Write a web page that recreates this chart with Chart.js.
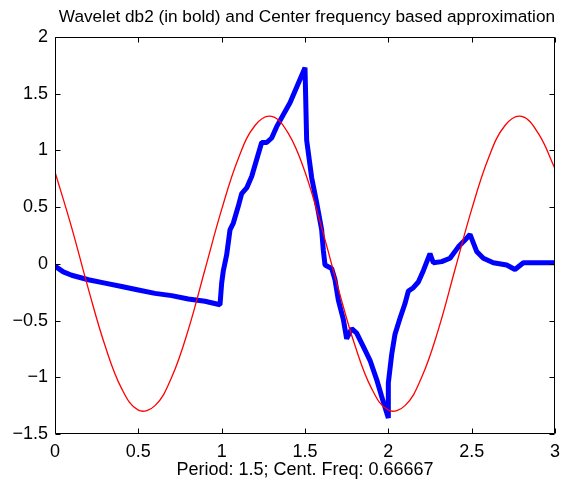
<!DOCTYPE html>
<html>
<head>
<meta charset="utf-8">
<script src="https://cdn.jsdelivr.net/npm/chart.js@4/dist/chart.umd.min.js"></script>
<style>
html,body{margin:0;padding:0;background:#fff;}
#wrap{width:574px;height:487px;}
</style>
</head>
<body>
<div id="wrap"><canvas id="c" width="574" height="487"></canvas></div>
<script>
// Wavelet db2 (bold, blue)
const blueX = [0.00,0.05,0.10,0.20,0.30,0.40,0.50,0.60,0.70,0.80,0.90,0.99,1.00,1.01,1.03,1.05,1.07,1.10,1.12,1.15,1.18,1.21,1.24,1.27,1.30,1.33,1.41,1.50,1.51,1.54,1.57,1.60,1.61,1.62,1.66,1.68,1.70,1.73,1.75,1.78,1.81,1.85,1.89,1.93,1.96,2.00,2.00,2.02,2.04,2.07,2.10,2.12,2.15,2.18,2.21,2.25,2.27,2.32,2.37,2.42,2.46,2.49,2.53,2.57,2.63,2.71,2.76,2.81,2.90,3.00];
const blueY = [-0.02,-0.07,-0.10,-0.14,-0.17,-0.20,-0.23,-0.26,-0.28,-0.31,-0.33,-0.36,-0.17,-0.06,0.08,0.30,0.36,0.51,0.62,0.67,0.77,0.92,1.07,1.07,1.11,1.21,1.42,1.73,1.09,0.76,0.54,0.30,0.12,-0.01,-0.04,-0.14,-0.32,-0.49,-0.66,-0.57,-0.61,-0.73,-0.85,-1.02,-1.17,-1.36,-1.05,-0.80,-0.62,-0.48,-0.35,-0.24,-0.21,-0.16,-0.06,0.09,0.01,0.02,0.05,0.15,0.21,0.26,0.11,0.05,0.01,-0.01,-0.05,0.01,0.01,0.01];
// Center frequency based approximation (red)
const redX = [0.0,0.1,0.2,0.3,0.4,0.5,0.6,0.7,0.8,0.9,1.0,1.1,1.2,1.3,1.4,1.5,1.6,1.7,1.8,1.9,2.0,2.1,2.2,2.3,2.4,2.5,2.6,2.7,2.8,2.9,3.0];
const redY = [0.81,0.32,-0.22,-0.72,-1.10,-1.29,-1.25,-1.00,-0.58,-0.05,0.48,0.93,1.22,1.30,1.15,0.81,0.32,-0.22,-0.72,-1.10,-1.29,-1.25,-1.00,-0.58,-0.05,0.48,0.93,1.22,1.30,1.15,0.84];
const xTickValues = [0,0.5,1,1.5,2,2.5,3];
const xTickLabels = ['0','0.5','1','1.5','2','2.5','3'];
const yTickValues = [-1.5,-1,-0.5,0,0.5,1,1.5,2];
const yTickLabels = ['\u22121.5','\u22121','\u22120.5','0','0.5','1','1.5','2'];
const titleText = 'Wavelet db2 (in bold) and Center frequency based approximation';
const xLabelText = 'Period: 1.5; Cent. Freq: 0.66667';

const FONT = "'Liberation Sans', Arial, Helvetica, sans-serif";

const boxPlugin = {
  id: 'boxTicks',
  afterDatasetsDraw(chart) {
    const {ctx, chartArea: a, scales: {x, y}} = chart;
    ctx.save();
    ctx.strokeStyle = '#000';
    ctx.lineWidth = 1;
    const L = Math.round(a.left) + 0.5, R = Math.round(a.right) - 0.5;
    const T = Math.round(a.top) + 0.5, B = Math.round(a.bottom) - 0.5;
    ctx.beginPath();
    ctx.rect(L, T, R - L, B - T);
    const tl = 5;
    xTickValues.forEach(v => {
      const px = Math.round(x.getPixelForValue(v)) + 0.5;
      ctx.moveTo(px, B); ctx.lineTo(px, B - tl);
      ctx.moveTo(px, T); ctx.lineTo(px, T + tl);
    });
    yTickValues.forEach(v => {
      const py = Math.round(y.getPixelForValue(v)) + 0.5;
      ctx.moveTo(L, py); ctx.lineTo(L + tl, py);
      ctx.moveTo(R, py); ctx.lineTo(R - tl, py);
    });
    ctx.stroke();
    ctx.restore();
  }
};

new Chart(document.getElementById('c'), {
  type: 'line',
  data: {
    datasets: [
      {
        label: 'approx',
        data: redX.map((v, i) => ({x: v, y: redY[i]})),
        borderColor: '#ff0000',
        borderWidth: 1.3,
        pointRadius: 0,
        tension: 0.4,
        fill: false
      },
      {
        label: 'db2',
        data: blueX.map((v, i) => ({x: v, y: blueY[i]})),
        borderColor: '#0000ff',
        borderWidth: 5,
        borderJoinStyle: 'bevel',
        pointRadius: 0,
        tension: 0,
        fill: false
      }
    ]
  },
  options: {
    responsive: false,
    animation: false,
    layout: {padding: {left: 0, right: 19, top: 0, bottom: 0}},
    plugins: {
      legend: {display: false},
      tooltip: {enabled: false},
      title: {
        display: true,
        text: titleText,
        align: 'end',
        color: '#000',
        font: {family: FONT, size: 17.2, weight: 'normal', lineHeight: 1.2},
        padding: {top: 7, bottom: 9.4}
      }
    },
    scales: {
      x: {
        type: 'linear',
        min: 0, max: 3,
        afterBuildTicks: s => { s.ticks = xTickValues.map(v => ({value: v})); },
        afterFit: s => { s.height = 53; },
        grid: {display: false, drawTicks: false},
        border: {display: false},
        ticks: {
          color: '#000',
          padding: 7,
          maxRotation: 0,
          autoSkip: false,
          font: {family: FONT, size: 18},
          callback: v => { const i = xTickValues.indexOf(v); return i >= 0 ? xTickLabels[i] : ''; }
        },
        title: {
          display: true,
          text: xLabelText,
          color: '#000',
          font: {family: FONT, size: 18},
          padding: {top: 0, bottom: 6}
        }
      },
      y: {
        type: 'linear',
        min: -1.5, max: 2,
        afterBuildTicks: s => { s.ticks = yTickValues.map(v => ({value: v})); },
        afterFit: s => { s.width = 55; },
        grid: {display: false, drawTicks: false},
        border: {display: false},
        ticks: {
          color: '#000',
          padding: 7,
          autoSkip: false,
          font: {family: FONT, size: 18},
          callback: v => { const i = yTickValues.indexOf(v); return i >= 0 ? yTickLabels[i] : ''; }
        }
      }
    }
  },
  plugins: [boxPlugin]
});
</script>
</body>
</html>
